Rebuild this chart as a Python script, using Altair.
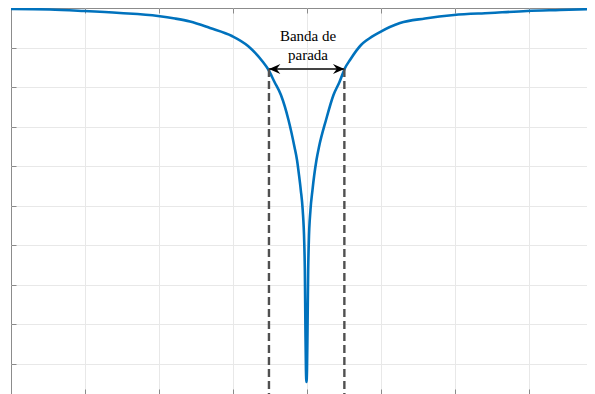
import altair as alt
import pandas as pd

# Notch filter magnitude response (axes in grid units; no tick labels in the original)
freq = [0.0, 0.527, 0.986, 1.473, 1.986, 2.216, 2.419, 2.689, 2.986, 3.203, 3.405, 3.473,
        3.561, 3.648, 3.750, 3.831, 3.865, 3.892, 3.916, 3.942, 3.963, 3.971, 3.979, 3.986, 3.993,
        4.000, 4.007, 4.016, 4.024, 4.047, 4.074, 4.098, 4.128, 4.162, 4.257, 4.358, 4.439, 4.514, 4.581,
        4.730, 4.811, 4.986, 5.257, 5.595, 5.986, 6.473, 6.973, 7.419, 7.892]
mag = [-0.025, -0.038, -0.076, -0.127, -0.203, -0.266, -0.342, -0.506, -0.709, -0.962, -1.367, -1.544,
       -1.873, -2.203, -2.835, -3.519, -3.848, -4.228, -4.608, -5.114, -5.949, -6.633, -8.152, -9.165, -9.468,
       -9.165, -8.152, -6.633, -5.949, -5.114, -4.608, -4.228, -3.848, -3.519, -2.835, -2.203, -1.873, -1.519, -1.316,
       -0.937, -0.810, -0.608, -0.380, -0.266, -0.177, -0.127, -0.076, -0.051, -0.025]

x_domain = [0, 7.892]
y_domain = [-9.772, 0]
x_ticks = [1, 2, 3, 4, 5, 6, 7]
y_ticks = [-1, -2, -3, -4, -5, -6, -7, -8, -9]

band_edges = [3.486, 4.505]
band_level = -1.544
label_lines = ["Banda de", "parada"]
label_x = 4.014
label_y = [-0.835, -1.316]

curve_df = pd.DataFrame({"f": freq, "m": mag})
edges_df = pd.DataFrame({"f": band_edges, "top": [band_level] * 2, "bottom": [y_domain[0]] * 2})
arrow_df = pd.DataFrame({"f": [band_edges[0]], "f2": [band_edges[1]], "m": [band_level]})
left_head = pd.DataFrame({"f": [band_edges[0]], "m": [band_level]})
right_head = pd.DataFrame({"f": [band_edges[1]], "m": [band_level]})
text_df = pd.DataFrame({"f": [label_x] * 2, "m": label_y, "t": label_lines})

xs = alt.Scale(domain=x_domain, nice=False, zero=False)
ys = alt.Scale(domain=y_domain, nice=False, zero=False)

tick_style = dict(labels=False, title=None, domain=False, ticks=True, tickSize=5,
                  tickColor="#8a8a8a", tickWidth=1, offset=-5)

curve = alt.Chart(curve_df).mark_line(color="#0072BD", strokeWidth=2.6, interpolate="monotone").encode(
    x=alt.X("f:Q", scale=xs, axis=alt.Axis(orient="bottom", values=x_ticks, grid=True,
                                            gridColor="#e8e8e8", gridWidth=1, **tick_style)),
    y=alt.Y("m:Q", scale=ys, axis=alt.Axis(orient="left", values=y_ticks, grid=True,
                                            gridColor="#e8e8e8", gridWidth=1, **tick_style)),
)

top_ticks = alt.Chart(curve_df).mark_line(opacity=0).encode(
    x=alt.X("f:Q", scale=xs, axis=alt.Axis(orient="top", values=x_ticks, grid=False, **tick_style)),
    y=alt.Y("m:Q", scale=ys, axis=None),
)

edges = alt.Chart(edges_df).mark_rule(color="#505050", strokeWidth=2.4, strokeDash=[8, 4]).encode(
    x=alt.X("f:Q", scale=xs, axis=None),
    y=alt.Y("top:Q", scale=ys, axis=None),
    y2="bottom:Q",
)

arrow = alt.Chart(arrow_df).mark_rule(color="#444444", strokeWidth=2).encode(
    x=alt.X("f:Q", scale=xs, axis=None),
    x2="f2:Q",
    y=alt.Y("m:Q", scale=ys, axis=None),
)

lh = alt.Chart(left_head).mark_point(
    shape="M0,0 L1.8,-0.8 L1.2,0 L1.8,0.8 Z", filled=True, color="#000000", size=160, opacity=1
).encode(x=alt.X("f:Q", scale=xs, axis=None), y=alt.Y("m:Q", scale=ys, axis=None))

rh = alt.Chart(right_head).mark_point(
    shape="M0,0 L-1.8,-0.8 L-1.2,0 L-1.8,0.8 Z", filled=True, color="#000000", size=160, opacity=1
).encode(x=alt.X("f:Q", scale=xs, axis=None), y=alt.Y("m:Q", scale=ys, axis=None))

labels = alt.Chart(text_df).mark_text(
    font="Liberation Serif", fontSize=15, color="#000000", align="center", baseline="alphabetic"
).encode(x=alt.X("f:Q", scale=xs, axis=None), y=alt.Y("m:Q", scale=ys, axis=None), text="t:N")

chart = alt.layer(curve, top_ticks, edges, arrow, lh, rh, labels).resolve_axis(
    x="independent", y="independent"
).properties(
    width=584, height=386,
    autosize=alt.AutoSizeParams(type="none"),
    padding={"left": 3, "top": 0, "right": -8, "bottom": 0},
    background="white",
).configure_view(stroke="#8c8c8c", strokeWidth=1)

chart.save("out.html", embed_options={"renderer": "svg", "actions": False})
